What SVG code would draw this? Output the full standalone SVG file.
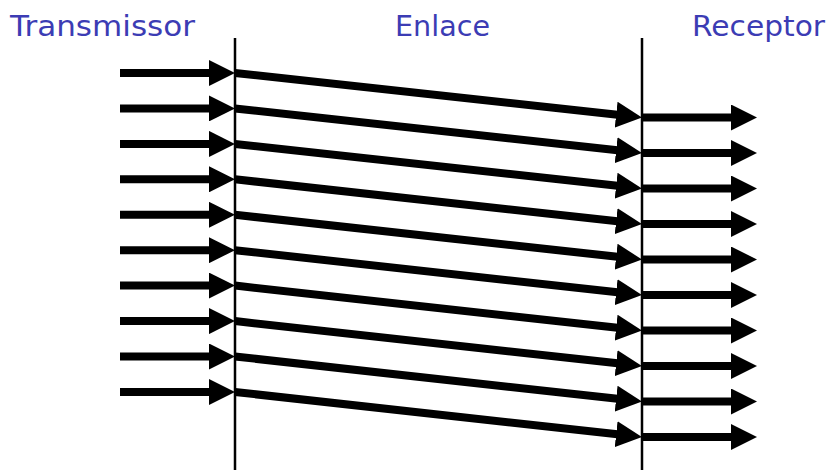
<svg xmlns="http://www.w3.org/2000/svg" width="831" height="470" viewBox="0 0 831 470">
<style>
.lbl{font-family:"DejaVu Sans","Liberation Sans",sans-serif;font-size:29px;fill:#3c3cb4}
.arr{stroke:#000;stroke-width:8;fill:none;marker-end:url(#head)}
.axis{stroke:#000;stroke-width:2.5}
</style>
<defs>
<marker id="head" markerUnits="userSpaceOnUse" markerWidth="26" markerHeight="26" viewBox="0 0 26 26" refX="6" refY="13" orient="auto">
<path d="M0,0 L26,13 L0,26 z" fill="#000"/>
</marker>
</defs>
<rect width="831" height="470" fill="#fff"/>
<g id="transmissor"><text class="lbl" x="10" y="36" textLength="185" lengthAdjust="spacingAndGlyphs">Transmissor</text><line class="axis" x1="235" y1="38" x2="235" y2="470"/></g>
<g id="enlace"><text class="lbl" x="395" y="36" textLength="95" lengthAdjust="spacingAndGlyphs">Enlace</text></g>
<g id="receptor"><text class="lbl" x="692" y="36" textLength="133" lengthAdjust="spacingAndGlyphs">Receptor</text><line class="axis" x1="642" y1="38" x2="642" y2="470"/></g>
<g id="connectors">
<path class="arr" d="M120,73 H215"/>
<path class="arr" d="M120,108.4 H215"/>
<path class="arr" d="M120,143.9 H215"/>
<path class="arr" d="M120,179.3 H215"/>
<path class="arr" d="M120,214.8 H215"/>
<path class="arr" d="M120,250.2 H215"/>
<path class="arr" d="M120,285.6 H215"/>
<path class="arr" d="M120,321.1 H215"/>
<path class="arr" d="M120,356.5 H215"/>
<path class="arr" d="M120,392 H215"/>
<path class="arr" d="M235,73 L622.1,115.3"/>
<path class="arr" d="M235,108.4 L622.1,150.8"/>
<path class="arr" d="M235,143.9 L622.1,186.3"/>
<path class="arr" d="M235,179.3 L622.1,221.8"/>
<path class="arr" d="M235,214.8 L622.1,257.3"/>
<path class="arr" d="M235,250.2 L622.1,292.8"/>
<path class="arr" d="M235,285.6 L622.1,328.3"/>
<path class="arr" d="M235,321.1 L622.1,363.8"/>
<path class="arr" d="M235,356.5 L622.1,399.3"/>
<path class="arr" d="M235,392 L622.1,434.8"/>
<path class="arr" d="M642,117.5 H737"/>
<path class="arr" d="M642,153 H737"/>
<path class="arr" d="M642,188.5 H737"/>
<path class="arr" d="M642,224 H737"/>
<path class="arr" d="M642,259.5 H737"/>
<path class="arr" d="M642,295 H737"/>
<path class="arr" d="M642,330.5 H737"/>
<path class="arr" d="M642,366 H737"/>
<path class="arr" d="M642,401.5 H737"/>
<path class="arr" d="M642,437 H737"/>
</g>
</svg>
